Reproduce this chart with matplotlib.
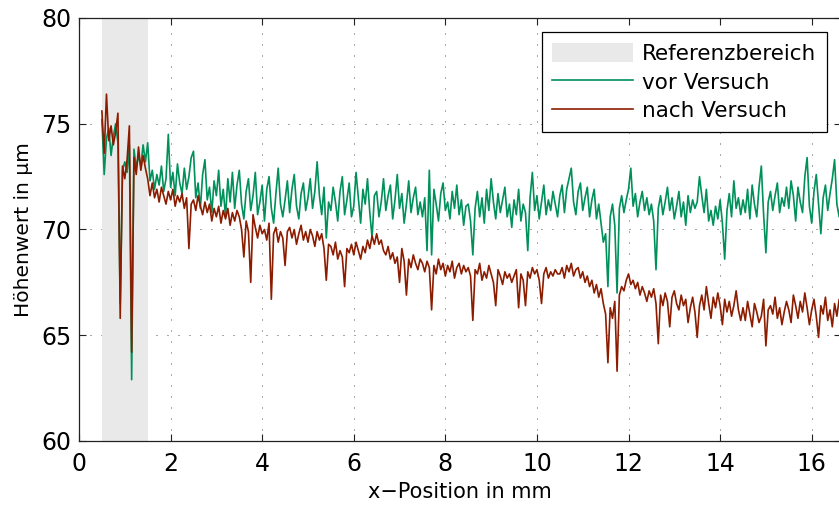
import matplotlib.pyplot as plt
import numpy as np

# Messprofil: Abtastung alle 0.05 mm von 0.5 bis 16.8 mm
x_start, x_end = 0.5, 16.8
ref_range = [0.5, 1.5]

hoehe_vor = [
    75.2, 72.6, 74.3, 74.8, 73.5, 74.4, 75.0, 74.1, 66.5, 72.8, 73.2, 72.7, 74.0, 62.9, 73.8, 72.9, 73.5, 73.0, 74.0, 73.2,
    74.1, 72.3, 72.8, 71.9, 72.6, 72.1, 73.0, 71.8, 72.4, 74.5, 72.0, 72.7, 71.6, 73.1, 72.2, 71.7, 72.9, 71.9, 72.5, 73.4,
    73.7, 71.5, 72.2, 71.0, 72.6, 73.3, 71.4, 72.0, 70.8, 72.3, 71.6, 72.8, 71.1, 71.9, 70.6, 72.4, 71.3, 72.7, 71.0, 72.1,
    72.8, 71.2, 70.5, 71.8, 72.4, 70.9, 71.6, 72.7, 70.7, 71.3, 72.1, 70.4, 71.9, 72.5, 71.0, 70.3, 71.7, 72.9, 71.2, 70.6,
    71.4, 72.3, 70.8, 71.9, 72.6, 71.1, 70.5, 71.7, 72.2, 70.9, 71.5, 72.4, 71.0, 71.8, 73.2, 71.6, 70.7, 72.0, 69.6, 71.3,
    70.9, 72.0, 71.3, 70.4, 71.8, 72.5, 70.7, 71.4, 72.2, 70.6, 71.1, 72.7, 71.5, 70.3, 71.9, 71.2, 72.4, 70.8, 69.6, 71.6,
    71.8, 70.6, 71.3, 72.4, 70.9, 71.6, 72.1, 70.5, 71.4, 72.6, 71.0, 71.7, 70.3, 71.2, 72.3, 70.8, 71.5, 72.0, 70.7, 71.3,
    70.6, 71.5, 69.0, 72.8, 68.8, 71.9, 71.2, 70.4, 71.7, 72.2, 70.9, 71.3, 70.5, 71.8, 71.0, 72.1, 70.7, 71.4, 70.2, 71.1,
    71.2, 70.4, 68.8, 71.0, 71.8, 70.6, 71.5, 70.3, 71.9, 70.9, 72.4, 71.3, 70.5, 71.7, 70.8, 71.4, 72.0, 70.6, 71.2, 70.1,
    71.4, 70.7, 71.9, 70.4, 71.2, 70.8, 69.0, 71.5, 72.7, 70.9, 71.6, 70.5, 71.3, 72.1, 70.7, 71.4, 70.9, 71.8, 71.2, 70.6,
    71.6, 72.1, 70.8, 71.9, 72.4, 72.9, 71.3, 70.7, 71.8, 72.2, 70.9, 71.5, 72.0, 70.6, 71.4, 71.9, 70.5, 71.2, 70.3, 69.4,
    69.8, 67.3, 70.6, 71.2, 70.2, 67.0, 71.0, 71.6, 70.8, 71.4, 71.9, 72.9, 71.1, 71.7, 70.6, 71.3, 71.8, 70.9, 71.5, 70.7,
    71.2, 70.4, 68.1, 71.0, 71.6, 70.7, 71.3, 72.0, 70.9, 71.5, 70.5, 71.1, 71.8, 70.6, 71.3, 70.2, 71.6, 70.8, 71.4, 71.0,
    71.3, 72.5, 71.6, 70.8, 71.9, 70.4, 70.9, 70.2, 71.1, 70.5, 71.4, 70.3, 68.6, 70.9, 71.7, 70.6, 72.3, 71.0, 71.5, 70.7,
    71.4, 70.8, 71.9, 70.5, 72.1, 71.2, 70.6, 72.0, 73.0, 70.7, 68.9, 71.3, 71.8, 70.9, 71.6, 72.2, 70.8, 71.5, 71.1, 72.0,
    71.0, 72.3, 71.6, 70.4, 72.0, 71.3, 70.8, 72.5, 73.4, 71.1, 70.3, 71.8, 72.6, 71.2, 69.8, 71.5, 72.1, 70.9, 71.7, 72.4,
    73.3, 71.2, 70.6, 72.0, 70.1, 71.5, 69.4,
]

hoehe_nach = [
    75.6, 73.6, 76.4, 74.2, 74.9, 74.0, 74.6, 75.5, 65.8, 73.0, 72.4, 73.3, 74.9, 64.2, 73.4, 72.6, 73.9, 72.8, 73.5, 72.9,
    72.4, 71.6, 72.2, 71.5, 71.9, 71.3, 72.0, 71.6, 71.2, 71.8, 71.4, 71.9, 71.1, 71.6, 71.3, 71.7, 71.0, 71.5, 69.1, 71.2,
    71.4, 70.9, 71.6, 71.1, 70.7, 71.3, 70.8, 71.2, 70.4, 71.0, 70.6, 71.1, 70.3, 70.9, 70.5, 71.0, 70.2, 70.8, 70.4, 70.9,
    70.6, 70.0, 68.7, 70.4, 69.9, 67.5, 70.7, 70.1, 69.6, 70.2, 69.8, 70.0, 69.5, 70.3, 66.7, 69.8, 70.1, 69.4, 69.9, 69.6,
    68.3, 69.9, 70.1, 69.6, 70.0, 69.3, 69.8, 70.2, 69.5, 69.9, 69.4, 70.0, 69.7, 69.2, 69.9, 69.5, 69.8, 69.1, 67.6, 69.3,
    69.2, 68.8, 69.4, 68.6, 69.0, 68.7, 67.3, 69.1, 68.9, 69.3, 68.8, 69.4, 69.0, 68.6, 69.2, 68.9, 69.5, 69.1, 69.7, 69.3,
    69.8, 69.3, 69.5, 69.0, 68.8, 69.2, 68.6, 68.9, 68.4, 68.7, 67.5, 69.1, 68.5, 66.9, 68.6, 68.2, 68.8, 68.4, 68.1, 68.6,
    68.4, 68.0, 68.5, 68.2, 66.2, 68.3, 67.9, 68.6, 68.1, 68.4, 67.8, 68.3, 68.0, 68.5, 67.7, 68.2, 68.4, 67.9, 68.3, 68.0,
    68.2, 67.8, 65.7, 68.1, 67.9, 68.4, 67.6, 68.0, 67.7, 68.3, 67.9, 67.5, 66.4, 68.1, 67.8, 67.4, 68.0, 67.7, 67.9, 67.5,
    67.8, 68.1, 66.3, 67.9, 67.6, 66.4, 68.0, 67.7, 68.2, 67.9, 68.1, 67.6, 66.5, 67.9, 68.2, 67.7, 68.0, 67.8, 68.1, 67.9,
    67.9, 68.2, 67.7, 68.3, 68.0, 68.4, 67.8, 68.1, 68.2, 67.7, 68.0, 67.5, 67.8, 67.3, 67.6, 67.0, 67.4, 66.8, 67.2, 66.5,
    66.0, 63.7, 66.3, 65.8, 66.6, 63.3, 66.9, 67.3, 67.1, 67.6, 67.9, 67.4, 67.6, 67.2, 67.5, 66.9, 67.3, 67.0, 66.6, 67.1,
    66.8, 67.2, 66.5, 64.6, 66.9, 66.4, 67.0, 66.6, 65.4, 66.8, 67.1, 66.5, 66.2, 66.9, 66.4, 66.7, 65.6, 66.3, 66.8, 66.1,
    64.9, 66.4, 66.9, 66.2, 67.3, 66.5, 65.8, 66.8, 66.3, 67.0, 66.4, 65.5, 66.7, 66.1, 66.6, 65.9, 66.4, 67.1, 66.2, 65.7,
    66.3, 65.7, 66.6, 66.0, 65.4, 66.5, 66.1, 65.6, 65.9, 66.7, 64.5, 66.2, 66.4, 66.0, 66.8, 65.8, 66.3, 65.5, 66.1, 66.6,
    66.2, 65.6, 66.9, 66.4, 65.8, 66.6, 66.1, 67.0, 66.3, 65.5, 66.2, 66.7, 65.9, 64.9, 66.4, 66.0, 66.8, 65.7, 66.2, 65.4,
    66.5, 65.9, 66.7, 65.6, 66.3, 65.1, 65.8,
]

x_pos = np.linspace(x_start, x_end, len(hoehe_vor))

x_ticks = [0, 2, 4, 6, 8, 10, 12, 14, 16]
y_ticks = [60, 65, 70, 75, 80]

plt.rcParams["font.family"] = ["DejaVu Sans"]

fig = plt.figure(figsize=(8.39, 5.05), dpi=100)
ax = fig.add_axes([79 / 839, 64 / 505, 762 / 839, 423 / 505])

ax.axvspan(ref_range[0], ref_range[1], color="#e9e9e9", lw=0, label="Referenzbereich")
ax.plot(x_pos, hoehe_vor, color="#00905a", lw=1.2, label="vor Versuch")
ax.plot(x_pos, hoehe_nach, color="#8c1c00", lw=1.2, label="nach Versuch")

ax.set_xlim(0, 16.64)
ax.set_ylim(60, 80)
ax.set_xticks(x_ticks)
ax.set_yticks(y_ticks)
ax.tick_params(direction="in", length=4.7, width=0.8, color="#222222",
               top=True, right=True, labelsize=17)
ax.tick_params(axis="y", pad=5.5)
ax.tick_params(axis="x", pad=8)

ax.set_axisbelow(True)
ax.grid(True, linestyle=(0, (1, 10)), lw=0.72, color="#555555")
for sp in ax.spines.values():
    sp.set_linewidth(0.9)
    sp.set_color("#222222")

ax.set_xlabel("x\u2212Position in mm", fontsize=15, labelpad=4)
ax.set_ylabel("Höhenwert in µm", fontsize=14.5, labelpad=6)

leg = ax.legend(loc="upper right", bbox_to_anchor=(0.9817, 0.9669), borderaxespad=0,
                fontsize=15.5, handlelength=3.75, handleheight=1.0, handletextpad=0.42,
                labelspacing=0.36, borderpad=0.5, fancybox=False, framealpha=1)
leg.get_frame().set_edgecolor("black")
leg.get_frame().set_linewidth(0.9)

fig.savefig("out.png", dpi=100)
